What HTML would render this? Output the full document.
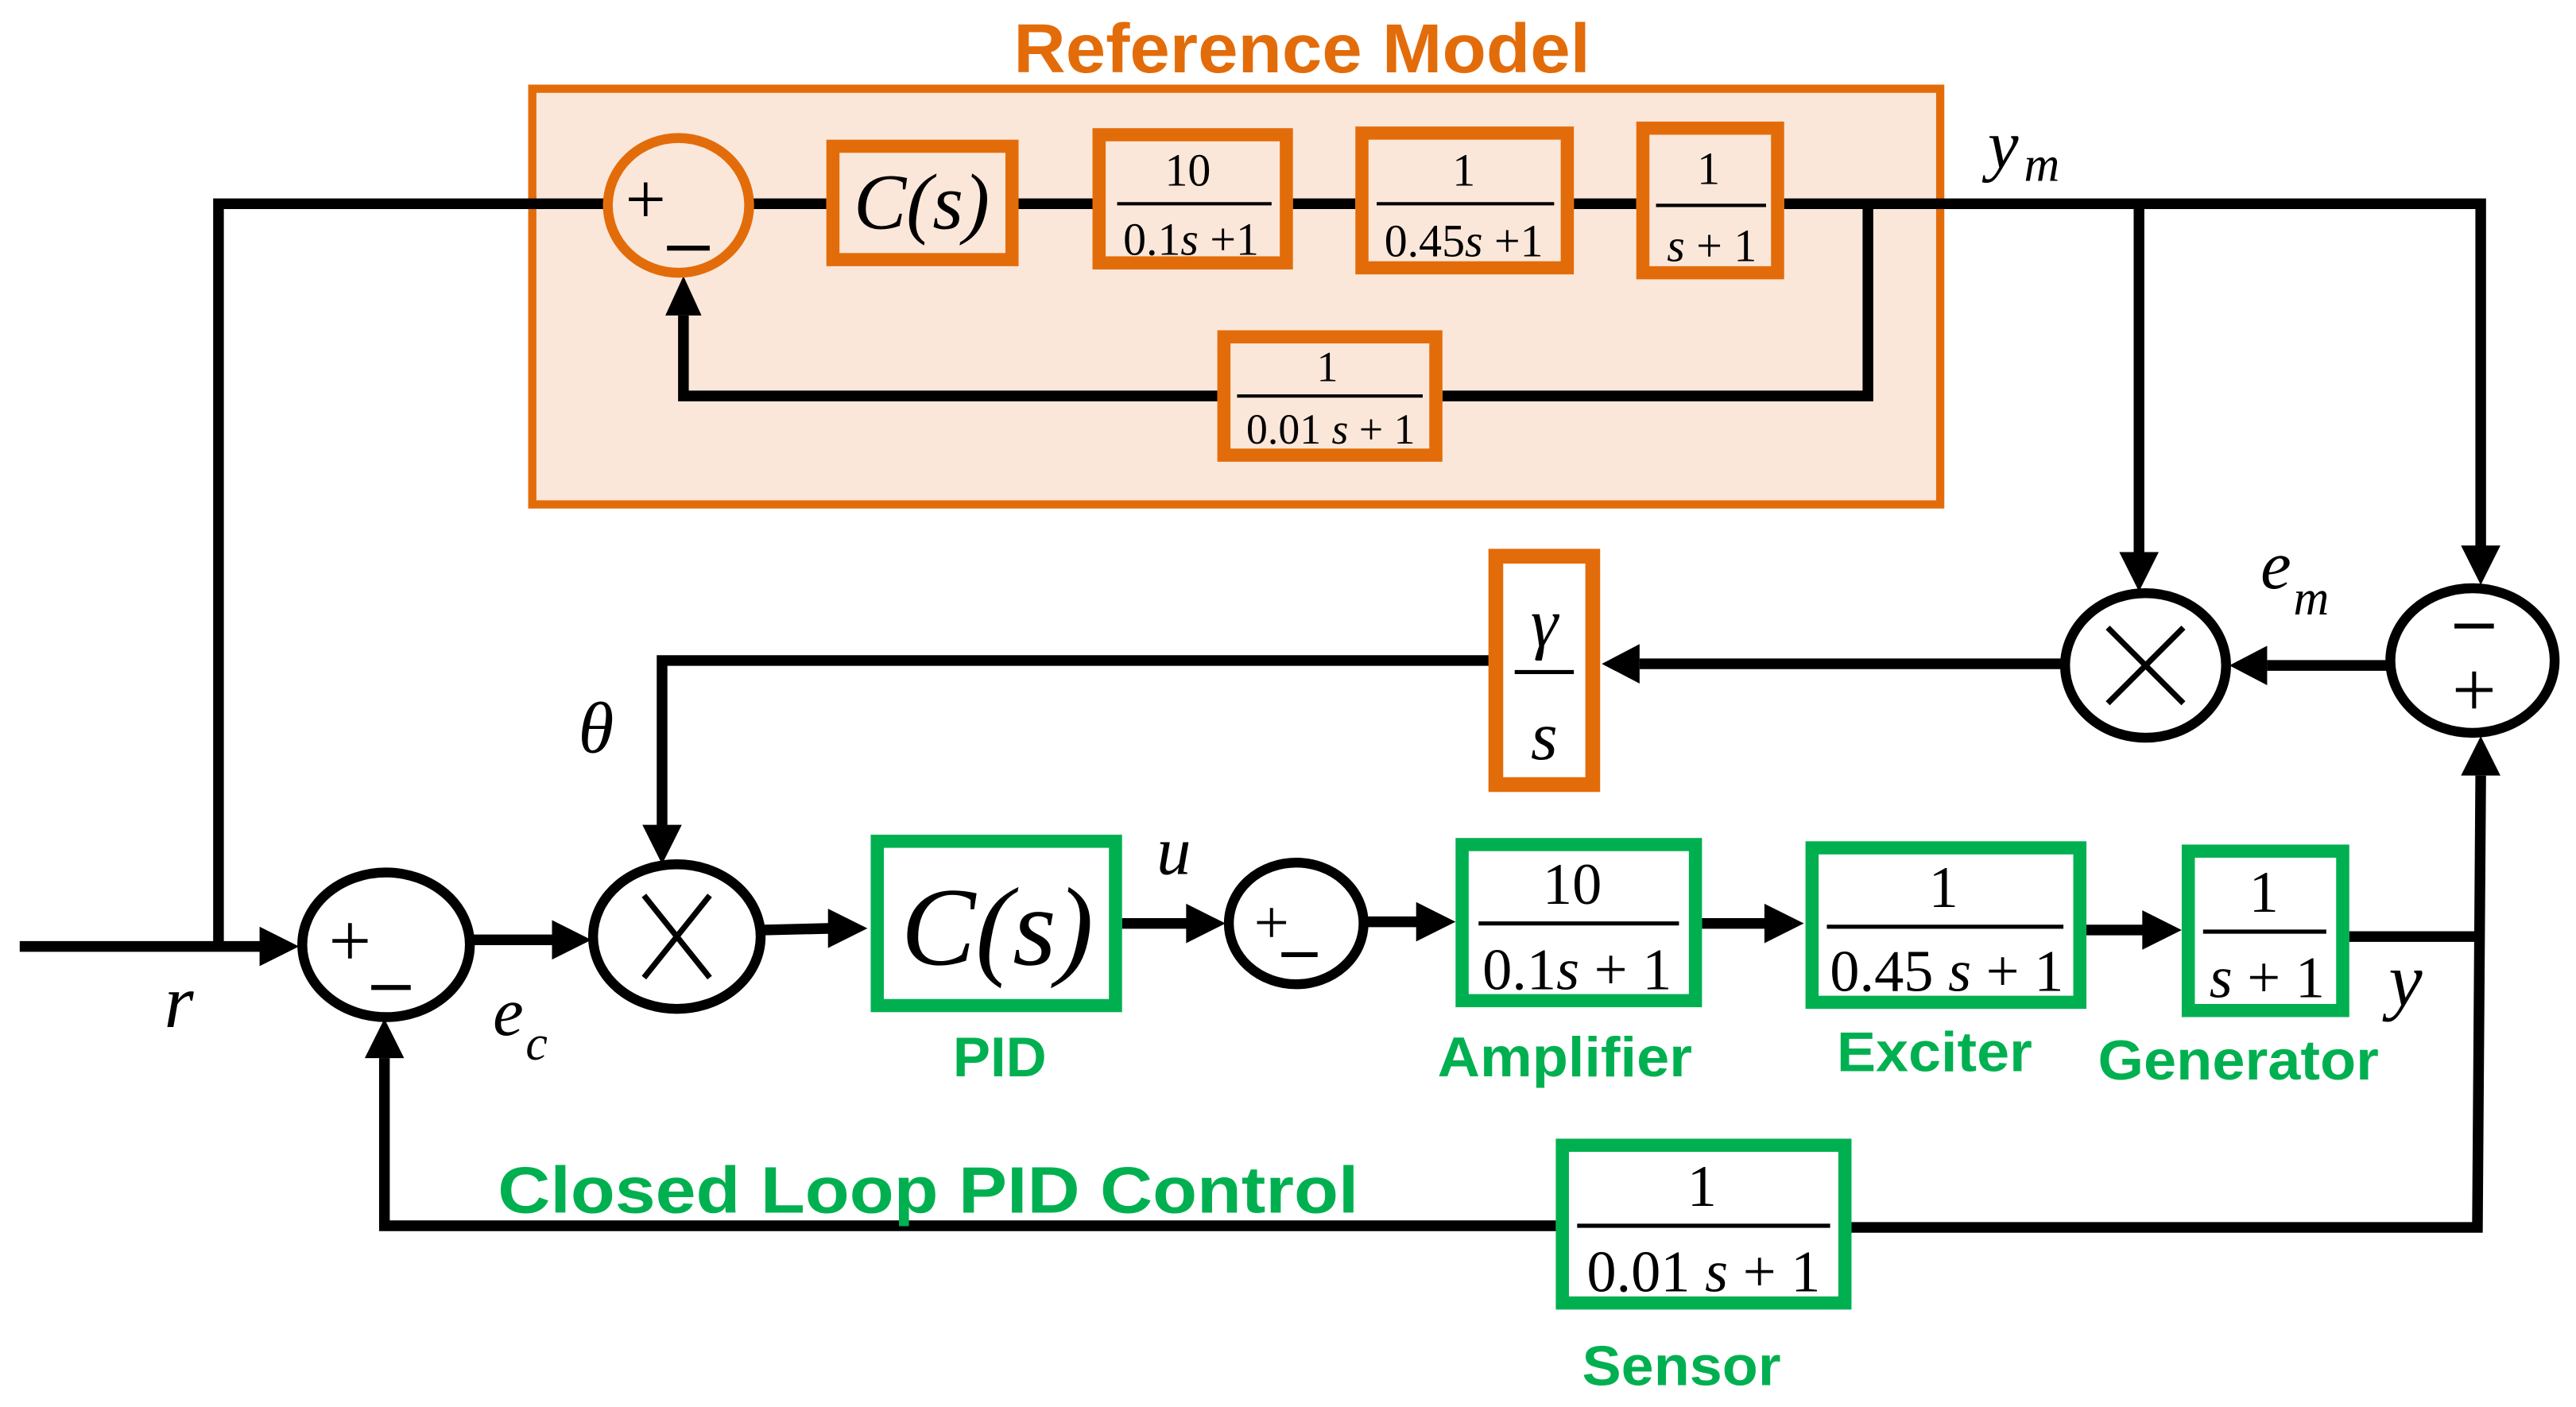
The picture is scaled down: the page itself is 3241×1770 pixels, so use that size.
<!DOCTYPE html>
<html><head><meta charset="utf-8"><style>
html,body{margin:0;padding:0;background:#fff;}
svg{display:block;}
.t{font-family:"Liberation Serif",serif;fill:#000;}
.i{font-family:"Liberation Serif",serif;font-style:italic;fill:#000;}
.g{font-family:"Liberation Sans",sans-serif;font-weight:bold;fill:#00B050;}
.o{font-family:"Liberation Sans",sans-serif;font-weight:bold;fill:#E36C0A;}
</style></head><body>
<svg width="3241" height="1770" viewBox="0 0 1568 856.3" preserveAspectRatio="none" xmlns="http://www.w3.org/2000/svg">
<rect width="1568" height="857" fill="#fff"/>
<text class="o" x="617" y="44" font-size="42" textLength="351" lengthAdjust="spacingAndGlyphs">Reference Model</text>
<rect x="324" y="54" width="857" height="253" fill="#FBE7D9" stroke="#E36C0A" stroke-width="5"/>

<g stroke="#000" stroke-width="6.5" fill="none">
<polyline points="133,576 133,124 368,124"/>
<line x1="458" y1="124" x2="503" y2="124"/>
<line x1="620" y1="124" x2="665" y2="124"/>
<line x1="787" y1="124" x2="825" y2="124"/>
<line x1="958" y1="124" x2="996" y2="124"/>
<polyline points="1086,124 1510,124 1510,335"/>
<polyline points="1137,124 1137,241 878,241"/>
<polyline points="741,241 416,241 416,192"/>
<line x1="1302" y1="124" x2="1302" y2="338"/>
<line x1="1453" y1="405" x2="1380" y2="405"/>
<line x1="1255" y1="404" x2="998" y2="404"/>
<polyline points="908,402 403,402 403,503"/>
<line x1="12" y1="576" x2="160" y2="576"/>
<line x1="288" y1="572" x2="338" y2="572"/>
<line x1="465" y1="566" x2="506" y2="565"/>
<line x1="683" y1="562" x2="724" y2="562"/>
<line x1="832" y1="561" x2="864" y2="561"/>
<line x1="1036" y1="562" x2="1076" y2="562"/>
<line x1="1270" y1="566" x2="1306" y2="566"/>
<polyline points="1430,570 1508,570"/>
<polyline points="947,746 234,746 234,644"/>
<polyline points="1127,747 1508,747 1510,472"/>
</g>
<g fill="#000">
<polygon points="405,192 427,192 416,168"/>
<polygon points="1290,336 1314,336 1302,360"/>
<polygon points="1498,332 1522,332 1510,356"/>
<polygon points="1380,393 1380,417 1357,405"/>
<polygon points="998,392 998,416 975,404"/>
<polygon points="391,502 415,502 403,526"/>
<polygon points="158,564 158,588 182,576"/>
<polygon points="336,560 336,584 360,572"/>
<polygon points="504,553 504,577 528,565"/>
<polygon points="722,550 722,574 746,562"/>
<polygon points="862,549 862,573 886,561"/>
<polygon points="1074,550 1074,574 1098,562"/>
<polygon points="1304,554 1304,578 1328,566"/>
<polygon points="1498,472 1522,472 1510,448"/>
<polygon points="222,644 246,644 234,620"/>
</g>

<ellipse cx="413" cy="125" rx="43" ry="41" fill="#FBE7D9" stroke="#E36C0A" stroke-width="6"/>
<text class="t" x="393" y="136" font-size="44" text-anchor="middle">+</text>
<line x1="406" y1="151" x2="432" y2="151" stroke="#000" stroke-width="3"/>

<g fill="#FBE7D9" stroke="#E36C0A" stroke-width="8">
<rect x="507" y="89" width="109" height="69"/>
<rect x="669" y="82" width="114" height="78"/>
<rect x="829" y="81" width="125" height="82"/>
<rect x="1000" y="78" width="82" height="88"/>
<rect x="745" y="205" width="129" height="72"/>
</g>
<text class="i" x="561" y="139" font-size="48" text-anchor="middle">C(s)</text>
<g stroke="#000" stroke-width="2">
<line x1="680" y1="124" x2="774" y2="124"/>
<line x1="838" y1="124" x2="946" y2="124"/>
<line x1="1008" y1="125" x2="1075" y2="125"/>
<line x1="753" y1="241" x2="866" y2="241"/>
</g>
<text class="t" x="723" y="113" font-size="28" text-anchor="middle">10</text>
<text class="t" x="725" y="155" font-size="28" text-anchor="middle">0.1<tspan font-style="italic">s</tspan> +1</text>
<text class="t" x="891" y="113" font-size="28" text-anchor="middle">1</text>
<text class="t" x="891" y="156" font-size="28" text-anchor="middle">0.45<tspan font-style="italic">s</tspan> +1</text>
<text class="t" x="1040" y="112" font-size="28" text-anchor="middle">1</text>
<text class="t" x="1042" y="159" font-size="28" text-anchor="middle"><tspan font-style="italic">s</tspan> + 1</text>
<text class="t" x="808" y="232" font-size="26" text-anchor="middle">1</text>
<text class="t" x="810" y="270" font-size="26" text-anchor="middle">0.01 <tspan font-style="italic">s</tspan> + 1</text>

<text class="i" x="1210" y="102" font-size="42">y</text>
<text class="i" x="1232" y="110" font-size="30">m</text>
<text class="i" x="1376" y="358" font-size="42">e</text>
<text class="i" x="1396" y="374" font-size="30">m</text>
<text class="i" x="352" y="458" font-size="44">θ</text>
<text class="i" x="100" y="625" font-size="46">r</text>
<text class="i" x="300" y="630" font-size="42">e</text>
<text class="i" x="320" y="645" font-size="30">c</text>
<text class="i" x="704" y="532" font-size="42">u</text>
<text class="i" x="1454" y="612" font-size="46">y</text>

<rect x="910.5" y="338.5" width="59" height="139" fill="#fff" stroke="#E36C0A" stroke-width="9"/>
<text class="i" x="940" y="393" font-size="42" text-anchor="middle">γ</text>
<line x1="922" y1="409" x2="958" y2="409" stroke="#000" stroke-width="2.5"/>
<text class="i" x="940" y="462" font-size="42" text-anchor="middle">s</text>

<g fill="#fff" stroke="#000" stroke-width="6">
<ellipse cx="1306" cy="405" rx="49" ry="44"/>
<ellipse cx="1505" cy="402" rx="50" ry="44"/>
<ellipse cx="235" cy="575" rx="51" ry="44"/>
<ellipse cx="412" cy="570" rx="51" ry="44"/>
<ellipse cx="789" cy="562" rx="41" ry="37"/>
</g>
<g stroke="#000" stroke-width="3.5">
<line x1="1283" y1="382" x2="1329" y2="428"/><line x1="1329" y1="382" x2="1283" y2="428"/>
<line x1="392" y1="545" x2="432" y2="595"/><line x1="432" y1="545" x2="392" y2="595"/>
</g>
<line x1="1494" y1="381" x2="1518" y2="381" stroke="#000" stroke-width="3"/>
<text class="t" x="1506" y="436" font-size="48" text-anchor="middle">+</text>
<text class="t" x="213" y="588" font-size="46" text-anchor="middle">+</text>
<line x1="226" y1="601" x2="250" y2="601" stroke="#000" stroke-width="3"/>
<text class="t" x="774" y="574" font-size="38" text-anchor="middle">+</text>
<line x1="780" y1="581" x2="802" y2="581" stroke="#000" stroke-width="3"/>

<g fill="#fff" stroke="#00B050" stroke-width="8">
<rect x="534" y="512" width="145" height="100"/>
<rect x="890" y="514" width="142" height="95"/>
<rect x="1103" y="516" width="163" height="94"/>
<rect x="1332" y="518" width="94" height="97"/>
<rect x="951" y="697" width="172" height="96"/>
</g>
<text class="i" x="607" y="587" font-size="68" text-anchor="middle">C(s)</text>
<g stroke="#000" stroke-width="2.5">
<line x1="900" y1="562" x2="1022" y2="562"/>
<line x1="1112" y1="564" x2="1256" y2="564"/>
<line x1="1341" y1="567" x2="1416" y2="567"/>
<line x1="960" y1="746" x2="1114" y2="746"/>
</g>
<text class="t" x="957" y="550" font-size="36" text-anchor="middle">10</text>
<text class="t" x="960" y="602" font-size="36" text-anchor="middle">0.1<tspan font-style="italic">s</tspan> + 1</text>
<text class="t" x="1183" y="552" font-size="36" text-anchor="middle">1</text>
<text class="t" x="1185" y="603" font-size="36" text-anchor="middle">0.45 <tspan font-style="italic">s</tspan> + 1</text>
<text class="t" x="1378" y="555" font-size="36" text-anchor="middle">1</text>
<text class="t" x="1380" y="607" font-size="36" text-anchor="middle"><tspan font-style="italic">s</tspan> + 1</text>
<text class="t" x="1036" y="734" font-size="36" text-anchor="middle">1</text>
<text class="t" x="1037" y="786" font-size="36" text-anchor="middle">0.01 <tspan font-style="italic">s</tspan> + 1</text>

<text class="g" x="580" y="655" font-size="34" textLength="57" lengthAdjust="spacingAndGlyphs">PID</text>
<text class="g" x="875" y="655" font-size="34" textLength="155" lengthAdjust="spacingAndGlyphs">Amplifier</text>
<text class="g" x="1118" y="652" font-size="34" textLength="119" lengthAdjust="spacingAndGlyphs">Exciter</text>
<text class="g" x="1277" y="657" font-size="34" textLength="171" lengthAdjust="spacingAndGlyphs">Generator</text>
<text class="g" x="963" y="843" font-size="34" textLength="121" lengthAdjust="spacingAndGlyphs">Sensor</text>
<text class="g" x="303" y="738" font-size="40" textLength="524" lengthAdjust="spacingAndGlyphs">Closed Loop PID Control</text>
</svg>
</body></html>
